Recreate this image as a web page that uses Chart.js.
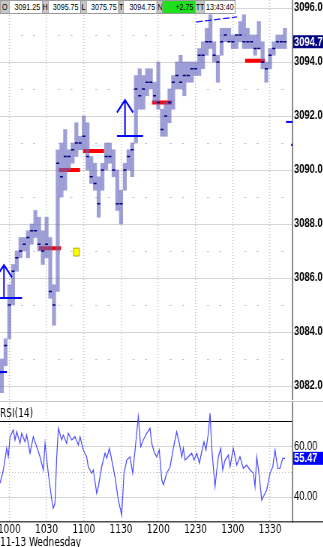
<!DOCTYPE html>
<html lang="en">
<head>
    <meta charset="UTF-8">
    <meta name="viewport" content="width=device-width, initial-scale=1.0">
    <title>1 Min Chart – RSI(14)</title>
    <script src="https://cdn.jsdelivr.net/npm/chart.js"></script>
    <style>
        html, body { margin: 0; padding: 0; background: #fff; overflow: hidden; }
        /* the screenshot is squeezed sideways, so lay out 4/3 wider and squeeze back */
        #wrap {
            position: relative; width: 431px; height: 547px;
            transform: scaleX(0.75); transform-origin: 0 0;
        }
        canvas { position: absolute; left: 0; }
        #priceCanvas { top: 0; }
        #rsiCanvas { top: 400px; }
        #quote {
            position: absolute; top: 0; left: 0; z-index: 2; display: flex;
            font: 9.5px 'Liberation Sans', Arial, sans-serif; color: #000;
        }
        #quote div {
            box-sizing: border-box; height: 14px; line-height: 12px;
            border: 1px solid #9a9a9a; margin-right: -1px;
            white-space: nowrap; overflow: hidden;
        }
        #quote .k { background: #c6c6c6; text-align: center; }
        #quote .v { background: #fff; text-align: right; padding-right: 2px; }
        #quote .up { background: #1fe01f; }
    </style>
</head>
<body>
<div id="wrap">
    <canvas id="priceCanvas" width="431" height="400"></canvas>
    <canvas id="rsiCanvas" width="431" height="147"></canvas>
    <div id="quote">
        <div class="k" style="width:13px">O</div>
        <div class="v" style="width:44.6px">3091.25</div>
        <div class="k" style="width:9px">H</div>
        <div class="v" style="width:44.1px">3095.75</div>
        <div class="k" style="width:9px">L</div>
        <div class="v" style="width:44px">3075.75</div>
        <div class="k" style="width:6.9px">T</div>
        <div class="v" style="width:46.3px">3094.75</div>
        <div class="k" style="width:7.7px">N</div>
        <div class="v up" style="width:45.4px">+2.75</div>
        <div class="k" style="width:13px">TT</div>
        <div class="v" style="width:42.3px; text-align:center; padding:0">13:43:40</div>
    </div>
</div>

<script>
// 3 minute bars, time in minutes from 10:00
const barTime = [
    -6, -3, 0, 3, 6, 9, 12, 15, 18, 21, 24,
    27, 30, 33, 36, 39, 42, 45, 48, 51, 54, 57,
    60, 63, 66, 69, 72, 75, 78, 81, 84, 87, 90,
    93, 96, 99, 102, 105, 108, 111, 114, 117, 120, 123,
    126, 129, 132, 135, 138, 141, 144, 147, 150, 153, 156,
    159, 162, 165, 168, 171, 174, 177, 180, 183, 186, 189,
    192, 195, 198, 201, 204, 207, 210, 213, 216, 219, 222
];
const barHigh = [
    3083.00, 3083.75, 3085.75, 3086.50, 3087.00, 3087.50, 3087.50, 3087.75, 3088.00, 3088.50, 3088.25,
    3087.75, 3088.25, 3087.50, 3085.75, 3090.75, 3091.00, 3091.50, 3090.75, 3091.00, 3091.75, 3091.25,
    3092.00, 3091.75, 3090.50, 3090.25, 3089.75, 3090.25, 3091.00, 3091.00, 3090.75, 3090.00, 3089.25,
    3090.25, 3090.75, 3091.00, 3093.50, 3093.75, 3093.50, 3093.75, 3093.75, 3093.25, 3094.00, 3092.25,
    3092.50, 3093.00, 3093.50, 3094.00, 3094.25, 3094.00, 3094.00, 3094.00, 3094.00, 3094.50, 3094.75,
    3095.25, 3095.75, 3094.75, 3094.25, 3095.25, 3095.25, 3095.25, 3095.00, 3095.00, 3095.50, 3095.75,
    3095.25, 3095.00, 3095.00, 3095.50, 3094.75, 3094.00, 3094.50, 3094.75, 3095.00, 3095.00, 3095.25
];
const barLow = [
    3081.75, 3082.75, 3083.75, 3085.00, 3086.25, 3086.75, 3087.00, 3086.75, 3087.25, 3087.50, 3087.00,
    3086.50, 3086.75, 3085.25, 3084.25, 3085.50, 3089.00, 3089.25, 3090.00, 3090.25, 3090.50, 3090.75,
    3090.75, 3090.00, 3089.50, 3089.25, 3088.25, 3089.25, 3090.00, 3090.25, 3089.75, 3088.50, 3088.00,
    3089.25, 3090.00, 3089.75, 3091.00, 3092.25, 3092.25, 3092.75, 3093.00, 3092.50, 3092.25, 3091.25,
    3091.25, 3091.75, 3092.25, 3093.00, 3093.00, 3092.75, 3093.25, 3093.25, 3093.50, 3093.50, 3093.75,
    3094.25, 3094.50, 3094.00, 3093.25, 3094.25, 3094.75, 3094.75, 3094.50, 3094.50, 3094.75, 3094.50,
    3094.50, 3094.50, 3094.25, 3094.50, 3093.75, 3093.25, 3093.75, 3094.25, 3094.50, 3094.50, 3094.50
];
const barClose = [
    3082.50, 3083.50, 3085.00, 3086.25, 3086.75, 3087.00, 3087.25, 3087.50, 3087.75, 3087.75, 3087.25,
    3087.00, 3087.25, 3085.50, 3085.00, 3090.25, 3089.75, 3090.50, 3090.50, 3090.75, 3091.00, 3091.00,
    3091.25, 3090.50, 3089.75, 3089.50, 3088.75, 3090.00, 3090.50, 3090.50, 3090.00, 3088.75, 3088.75,
    3090.00, 3090.50, 3090.75, 3093.00, 3092.75, 3093.00, 3093.25, 3093.25, 3092.75, 3092.50, 3091.50,
    3092.00, 3092.50, 3093.25, 3093.50, 3093.25, 3093.50, 3093.50, 3093.75, 3093.75, 3094.25, 3094.25,
    3094.75, 3094.75, 3094.25, 3094.00, 3094.75, 3095.00, 3094.75, 3094.75, 3095.00, 3095.00, 3094.75,
    3094.75, 3094.75, 3094.50, 3094.50, 3094.00, 3093.75, 3094.25, 3094.50, 3094.75, 3094.75, 3094.75
];
const lastPrice = 3094.75;

// red stop / target marks
const markFrom = [23.9, 40.0, 59.4, 115.0, 189.9];
const markTo = [41.6, 57.0, 76.3, 131.1, 205.9];
const markPrice = [3087.1, 3090.0, 3090.7, 3092.5, 3094.05];

// blue buy arrows (first one sits left of the visible range)
const arrowTime = [-16.4, -4.3, 93.2];
const arrowTip = [3083.74, 3086.48, 3092.59];
const arrowBase = [3082.52, 3085.26, 3091.26];

// hand drawn line at the top, and the marks on the right edge
const trendTime = [150.4, 183.4];
const trendPrice = [3095.48, 3095.67];
const edgeTime = [222.9, 228.1];
const edgePrice = [3091.78, 3091.78];
const dotTime = [227.7];
const dotPrice = [3090.93];

// yellow alert box
const alertTime = [54.1];
const alertPrice = [3086.96];

// RSI(14)
const rsiTime = [
    -7.5, -4.8, -2.1, -0.8, 0.6, 3.2, 4.6, 6.0, 8.6, 10.0, 12.6, 14.0, 16.7, 19.3, 22.1, 24.7,
    27.4, 28.8, 31.4, 34.2, 35.4, 36.8, 38.2, 39.5, 42.2, 43.5, 46.2, 47.5, 50.3, 52.9, 55.6, 57.0,
    59.6, 62.3, 63.6, 66.4, 67.7, 70.4, 71.7, 74.4, 77.1, 78.5, 80.6, 82.5, 85.1, 87.8, 90.5, 92.4,
    94.6, 97.2, 99.4, 101.3, 103.9, 105.8, 107.9, 110.7, 113.3, 114.7, 116.6, 118.7, 120.8, 122.8, 124.1, 126.8,
    129.5, 132.1, 134.8, 137.5, 138.9, 140.2, 141.5, 144.2, 146.9, 148.8, 151.0, 153.1, 155.0, 156.8, 158.4, 160.3,
    161.7, 163.0, 164.3, 165.7, 167.1, 168.4, 170.3, 171.9, 173.8, 176.4, 177.8, 180.4, 183.2, 185.8, 188.5, 191.2,
    193.9, 196.6, 197.9, 199.3, 201.4, 203.3, 204.6, 207.3, 210.0, 212.2, 214.0, 216.2, 218.1, 220.2, 222.1
];
const rsiValue = [
    45.5, 50.8, 59.5, 56.1, 64.1, 66.8, 62.8, 66.1, 61.5, 65.5, 62.1, 64.8, 57.5, 64.1, 60.1, 56.1,
    50.8, 61.5, 49.5, 38.8, 35.5, 37.5, 56.1, 67.5, 62.8, 64.8, 61.5, 65.5, 62.8, 64.1, 60.8, 64.1,
    58.8, 56.1, 52.1, 49.5, 50.8, 41.5, 44.1, 52.1, 57.5, 55.5, 59.5, 54.8, 48.1, 38.8, 32.8, 49.5,
    54.8, 56.1, 49.5, 58.8, 72.1, 60.1, 62.8, 65.5, 67.5, 61.5, 58.1, 56.1, 58.8, 46.8, 44.8, 49.5,
    52.1, 59.5, 66.1, 60.1, 56.1, 59.5, 54.8, 56.1, 57.5, 54.8, 57.5, 53.5, 58.1, 62.1, 58.8, 65.5,
    73.5, 60.1, 52.1, 44.1, 50.8, 56.1, 59.5, 50.8, 54.8, 56.8, 52.1, 59.5, 52.8, 56.1, 51.5, 52.8,
    50.8, 49.5, 44.1, 56.1, 48.1, 38.8, 40.1, 42.8, 49.5, 52.1, 58.8, 51.5, 51.5, 55.5, 55.47
];
const rsiLevels = [30, 40, 50, 60, 70];
const rsiLast = 55.47;

// visible window
const X_MIN = -7.49, X_MAX = 228.1;
const PRICE_MIN = 3081.4815, PRICE_MAX = 3096.2963;

const HEAD_W = 6.5, HEAD_H = 0.46;
const labelFont = "'Liberation Sans', Arial, sans-serif";
const smallFont = "'DejaVu Sans', Verdana, sans-serif";

function clockLabel(v) {
    const m = 600 + v;
    return String(Math.floor(m / 60) * 100 + m % 60);
}

function segments(from, to, level) {
    const pts = [];
    from.forEach((f, i) => {
        pts.push({x: f, y: level[i]}, {x: to[i], y: level[i]}, {x: to[i], y: null});
    });
    return pts;
}

function arrows() {
    const pts = [];
    arrowTime.forEach((t, i) => {
        const tip = arrowTip[i], base = arrowBase[i];
        pts.push({x: t - HEAD_W, y: tip - HEAD_H}, {x: t, y: tip}, {x: t + HEAD_W, y: tip - HEAD_H}, {x: t, y: null});
        pts.push({x: t, y: tip}, {x: t, y: base}, {x: t, y: null});
        pts.push({x: t - 6.5, y: base}, {x: t + 14.5, y: base}, {x: t, y: null});
    });
    return pts;
}

const priceOverlay = {
    id: 'priceOverlay',
    beforeDatasetsDraw(chart) {
        const {ctx, scales: {x, y}} = chart;
        ctx.save();
        ctx.fillStyle = '#c2c2c2';
        // short dashes on the odd levels at every 10 minutes
        for (let p = 3083; p <= 3095; p += 2) {
            const py = Math.round(y.getPixelForValue(p));
            for (let m = 10; m <= 220; m += 10) {
                if (m % 30 === 0) continue;
                ctx.fillRect(x.getPixelForValue(m) - 1.3, py, 2.7, 1);
            }
        }
        ctx.restore();
    },
    afterDraw(chart) {
        const {ctx, chartArea: a, scales: {y}, width} = chart;
        const py = y.getPixelForValue(lastPrice);
        ctx.save();
        ctx.fillStyle = '#000080';
        ctx.fillRect(a.right + 1, py - 6.5, width - a.right, 13);
        ctx.fillStyle = '#fff';
        ctx.font = 'bold 12.5px ' + labelFont;
        ctx.textBaseline = 'middle';
        ctx.fillText(lastPrice.toFixed(2), a.right + 2, py + 0.5);
        ctx.restore();
    }
};

new Chart(document.getElementById('priceCanvas'), {
    type: 'bar',
    data: {
        datasets: [
            {
                type: 'line', order: 6,
                data: segments(markFrom, markTo, markPrice),
                borderColor: '#ff0000', borderWidth: 4, pointRadius: 0, spanGaps: false, borderCapStyle: 'butt'
            },
            {
                type: 'bar', order: 5,
                data: barTime.map((t, i) => ({x: t, y: [barLow[i], barHigh[i]]})),
                backgroundColor: 'rgba(100,100,190,0.62)', borderWidth: 0, barThickness: 4.6
            },
            {
                type: 'scatter', order: 4,
                data: barTime.map((t, i) => ({x: t, y: barClose[i]})),
                pointStyle: 'line', pointRadius: 2, pointBorderColor: '#00007a', pointBorderWidth: 1.5
            },
            {
                type: 'line', order: 3,
                data: arrows(),
                borderColor: '#0000ff', borderWidth: 2, pointRadius: 0, spanGaps: false, borderJoinStyle: 'miter'
            },
            {
                type: 'line', order: 3,
                data: trendTime.map((t, i) => ({x: t, y: trendPrice[i]})),
                borderColor: '#1a1aff', borderWidth: 1.2, borderDash: [9, 3], pointRadius: 0
            },
            {
                type: 'line', order: 3,
                data: edgeTime.map((t, i) => ({x: t, y: edgePrice[i]})),
                borderColor: '#0000ff', borderWidth: 2, pointRadius: 0
            },
            {
                type: 'scatter', order: 3,
                data: dotTime.map((t, i) => ({x: t, y: dotPrice[i]})),
                pointStyle: 'rect', pointRadius: 1.6, pointBackgroundColor: '#0000ff', pointBorderWidth: 0
            },
            {
                type: 'scatter', order: 1,
                data: alertTime.map((t, i) => ({x: t, y: alertPrice[i]})),
                pointStyle: 'rect', pointRadius: 5.5, pointBackgroundColor: '#ffff00',
                pointBorderColor: '#a8a800', pointBorderWidth: 1
            }
        ]
    },
    options: {
        responsive: false, animation: false, devicePixelRatio: 1, events: [],
        layout: { padding: 0, autoPadding: false },
        plugins: { legend: { display: false }, tooltip: { enabled: false } },
        scales: {
            x: {
                type: 'linear', min: X_MIN, max: X_MAX, offset: false,
                ticks: { display: false, stepSize: 30, includeBounds: false },
                grid: { color: '#bdbdbd', lineWidth: 1.3, drawTicks: false, offset: false },
                border: { display: false, dash: [1, 2] },
                afterFit: s => { s.height = 0; s.paddingLeft = 0; s.paddingRight = 0; }
            },
            y: {
                position: 'right', min: PRICE_MIN, max: PRICE_MAX, beginAtZero: false,
                ticks: {
                    stepSize: 2, includeBounds: false, padding: 2, color: '#000',
                    font: { family: labelFont, size: 12.5, weight: 'bold' },
                    callback: v => v.toFixed(1)
                },
                grid: { color: '#d6d6d6', lineWidth: 1, drawTicks: false },
                border: { color: '#8c8c8c', width: 2 },
                afterFit: s => { s.width = 41; s.paddingTop = 0; s.paddingBottom = 0; }
            }
        }
    },
    plugins: [priceOverlay]
});

const rsiOverlay = {
    id: 'rsiOverlay',
    beforeDatasetsDraw(chart) {
        const {ctx, chartArea: a, scales: {y}} = chart;
        const py = Math.round(y.getPixelForValue(50)) + 0.5;
        ctx.save();
        ctx.strokeStyle = '#bdbdbd';
        ctx.setLineDash([1, 3]);
        ctx.beginPath();
        ctx.moveTo(a.left, py);
        ctx.lineTo(a.right, py);
        ctx.stroke();
        ctx.restore();
    },
    afterDraw(chart) {
        const {ctx, chartArea: a, scales: {y}, width} = chart;
        ctx.save();
        ctx.fillStyle = '#c4c4c4';
        ctx.fillRect(0, 1, width, 1);
        ctx.fillStyle = '#4d4d4d';
        ctx.fillRect(0, Math.round(a.bottom) - 1, width, 1.5);
        ctx.fillStyle = '#000';
        ctx.font = '12px ' + smallFont;
        ctx.textBaseline = 'middle';
        ctx.fillText('RSI(14)', 0, 14);
        ctx.fillText('11-13 Wednesday', 0, 143);
        const py = y.getPixelForValue(rsiLast);
        ctx.fillStyle = '#0000ff';
        ctx.fillRect(a.right + 1, py - 6.5, width - a.right, 13);
        ctx.fillStyle = '#fff';
        ctx.font = 'bold 12.5px ' + labelFont;
        ctx.fillText(rsiLast.toFixed(2), a.right + 2, py + 0.5);
        ctx.restore();
    }
};

new Chart(document.getElementById('rsiCanvas'), {
    type: 'line',
    data: {
        datasets: [{
            data: rsiTime.map((t, i) => ({x: t, y: rsiValue[i]})),
            borderColor: '#4a4aff', borderWidth: 1.2, pointRadius: 0, tension: 0
        }]
    },
    options: {
        responsive: false, animation: false, devicePixelRatio: 1, events: [],
        layout: { padding: { top: 3 }, autoPadding: false },
        plugins: { legend: { display: false }, tooltip: { enabled: false } },
        scales: {
            x: {
                type: 'linear', min: X_MIN, max: X_MAX, offset: false,
                ticks: {
                    stepSize: 30, includeBounds: false, padding: 1, maxRotation: 0, autoSkip: false,
                    color: '#000', font: { family: smallFont, size: 12 }, callback: clockLabel
                },
                grid: { color: '#bdbdbd', lineWidth: 1.3, drawTicks: false },
                border: { display: false, dash: [1, 2] },
                afterFit: s => { s.height = 25; s.paddingLeft = 0; s.paddingRight = 0; }
            },
            y: {
                position: 'right', min: 30, max: 77.6,
                afterBuildTicks: s => { s.ticks = rsiLevels.map(v => ({value: v})); },
                ticks: {
                    padding: 2, color: '#000', font: { family: labelFont, size: 12.5 },
                    callback: v => (v === 40 || v === 60) ? v.toFixed(2) : ''
                },
                grid: {
                    drawTicks: false,
                    color: c => {
                        const v = c.tick ? c.tick.value : 0;
                        if (v === 70) return '#000';
                        if (v === 40 || v === 60) return '#d6d6d6';
                        return 'rgba(0,0,0,0)';
                    }
                },
                border: { color: '#8c8c8c', width: 2 },
                afterFit: s => { s.width = 41; s.paddingTop = 0; s.paddingBottom = 0; }
            }
        }
    },
    plugins: [rsiOverlay]
});
</script>
</body>
</html>
